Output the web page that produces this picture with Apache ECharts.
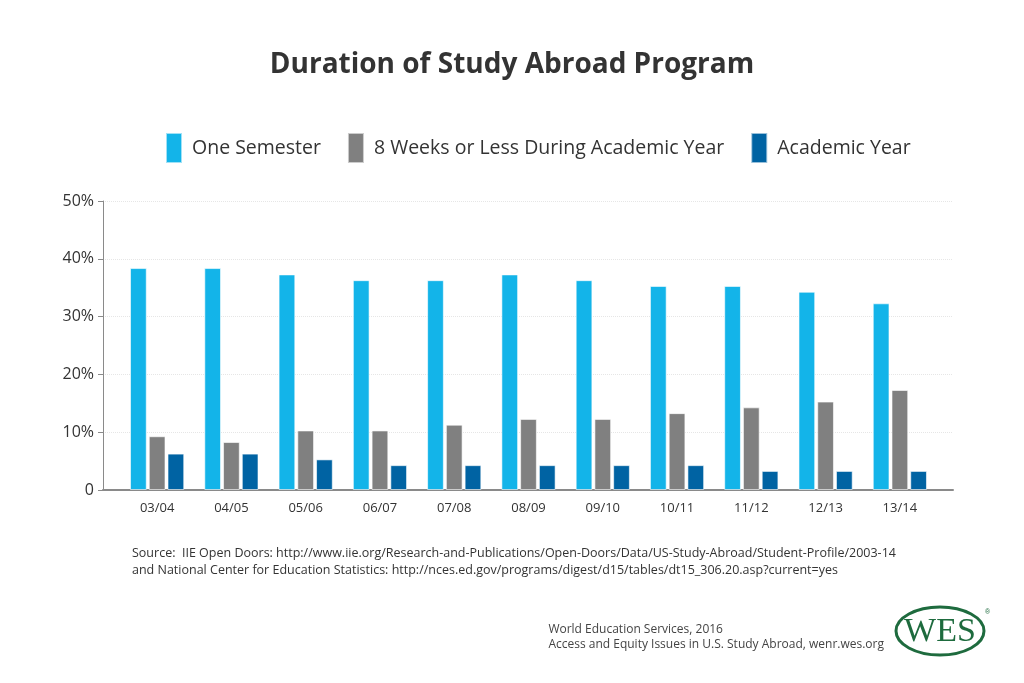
<!DOCTYPE html>
<html><head><meta charset="utf-8">
<script src="https://cdn.jsdelivr.net/npm/echarts@6/dist/echarts.min.js"></script>
<style>html,body{margin:0;padding:0;background:#fff}#c{width:1024px;height:683px}</style>
</head><body><div id="c"></div>
<script>
const categories = ['03/04','04/05','05/06','06/07','07/08','08/09','09/10','10/11','11/12','12/13','13/14'];
const oneSemester = [38.4,38.4,37.3,36.3,36.3,37.3,36.3,35.3,35.3,34.3,32.3];
const eightWeeks = [9.3,8.3,10.3,10.3,11.3,12.3,12.3,13.3,14.3,15.3,17.3];
const academicYear = [6.3,6.3,5.3,4.3,4.3,4.3,4.3,4.3,3.3,3.3,3.3];
const seriesNames = ['One Semester','8 Weeks or Less During Academic Year','Academic Year'];
const colors = ['#13b4e9','#808080','#0063a3'];

const F = '"Open Sans", sans-serif';
const chart = echarts.init(document.getElementById('c'));
const mk = (name, data, color) => ({
  name, type:'bar', data, xAxisIndex:1, yAxisIndex:1, barGap:'12%', barCategoryGap:'27%',
  itemStyle:{color, borderColor:'rgba(255,255,255,0.6)', borderWidth:1}
});
chart.setOption({
  animation:false,
  title:{text:'Duration of Study Abroad Program', left:'center', top:46,
    textStyle:{fontFamily:F, fontSize:28, fontWeight:700, color:'#333'}},
  legend:{top:127, left:160, itemWidth:16, itemHeight:30, itemGap:26,
    icon:'rect',
    textStyle:{fontFamily:F, fontSize:19.5, color:'#333', padding:[0,0,0,5]},
    data:seriesNames},
  grid:[{left:103, right:71, top:201, bottom:193},{left:120, right:87, top:201, bottom:193}],
  xAxis:[{type:'value', gridIndex:0, min:0, max:1, show:true,
      axisLine:{lineStyle:{color:'#8a8a8a', width:2}}, axisTick:{show:false},
      axisLabel:{show:false}, splitLine:{show:false}},
    {type:'category', gridIndex:1, data:categories,
      axisLine:{show:false}, axisTick:{show:false},
      axisLabel:{fontFamily:F, fontSize:13, color:'#333', margin:12}}],
  yAxis:[{type:'value', gridIndex:0, min:0, max:50, interval:10,
      axisLine:{show:true, lineStyle:{color:'#8a8a8a', width:1}},
      splitLine:{lineStyle:{color:'#e6e6e6', type:'dotted'}},
      axisLabel:{fontFamily:F, fontSize:16, color:'#333', margin:9,
        formatter:v => v===0 ? '0' : v+'%'}},
    {type:'value', gridIndex:1, min:0, max:50, interval:10, show:false}],
  series:[mk(seriesNames[0], oneSemester, colors[0]), mk(seriesNames[1], eightWeeks, colors[1]), mk(seriesNames[2], academicYear, colors[2])],
  graphic:[
    {type:'text', left:132, top:545, style:{text:'Source:  IIE Open Doors: http://www.iie.org/Research-and-Publications/Open-Doors/Data/US-Study-Abroad/Student-Profile/2003-14\nand National Center for Education Statistics: http://nces.ed.gov/programs/digest/d15/tables/dt15_306.20.asp?current=yes',
      font:'12.5px "Open Sans", sans-serif', fill:'#333', lineHeight:17}},
    {type:'text', right:140, top:622, style:{text:'World Education Services, 2016\nAccess and Equity Issues in U.S. Study Abroad, wenr.wes.org',
      font:'12px "Open Sans", sans-serif', fill:'#444', lineHeight:15, align:'right'}},
    {type:'ellipse', shape:{cx:940, cy:631, rx:44, ry:24}, style:{fill:'none', stroke:'#1e6b3e', lineWidth:3}},
    {type:'text', x:940, y:632, style:{text:'WES', font:'34px "Liberation Serif", serif', fill:'#1e6b3e', align:'center', verticalAlign:'middle'}},
    {type:'text', x:985, y:609, style:{text:'®', font:'7px sans-serif', fill:'#1e6b3e'}}
  ]
});
</script></body></html>
